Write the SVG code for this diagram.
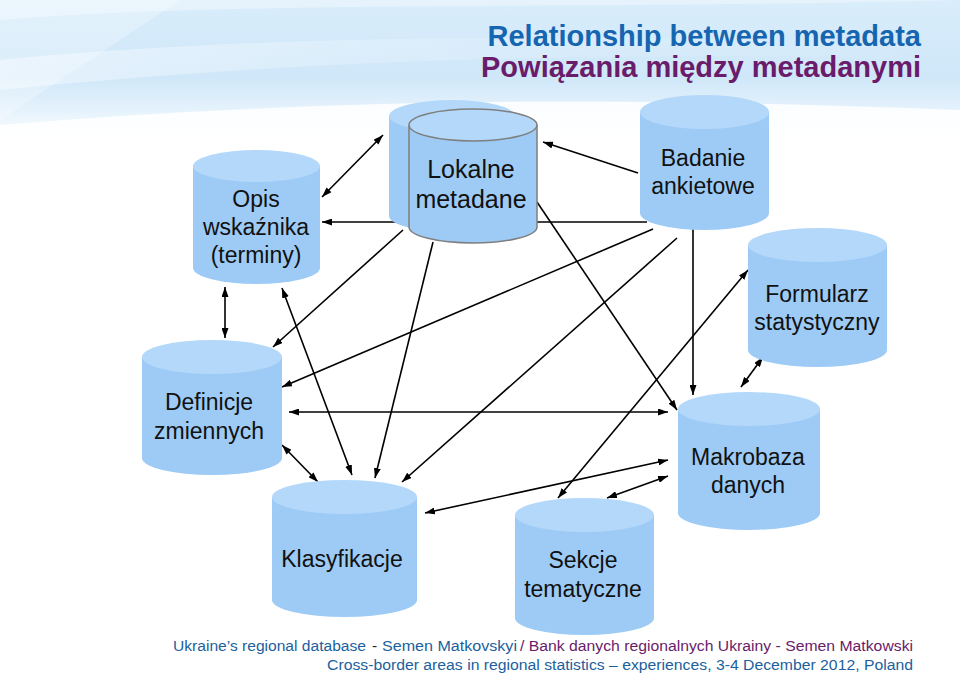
<svg xmlns="http://www.w3.org/2000/svg" width="960" height="676" viewBox="0 0 960 676">
<defs>
<linearGradient id="bg" x1="0" y1="0" x2="0" y2="1">
<stop offset="0" stop-color="#d9edfb"/>
<stop offset="0.55" stop-color="#cfe7f9"/>
<stop offset="0.8" stop-color="#e6f3fc"/>
<stop offset="1" stop-color="#ffffff"/>
</linearGradient>
<linearGradient id="sw" x1="0" y1="0" x2="1" y2="0">
<stop offset="0" stop-color="#ffffff" stop-opacity="0.7"/>
<stop offset="0.5" stop-color="#ffffff" stop-opacity="0.25"/>
<stop offset="1" stop-color="#ffffff" stop-opacity="0"/>
</linearGradient>
<marker id="ah" viewBox="0 0 10 7" refX="10" refY="3.5" markerWidth="10" markerHeight="7" markerUnits="userSpaceOnUse" orient="auto-start-reverse">
<path d="M0,0 L10,3.5 L0,7 Z" fill="#000"/>
</marker>
<style>
.body{fill:#9dcbf6}
.cap{fill:#b3d8fa}
.front .body,.front .cap{stroke:#7f7f7f;stroke-width:1.5}
.lbl{font-family:"Liberation Sans",Arial,sans-serif;font-size:23px;fill:#111;text-anchor:middle}
.c line{stroke:#000;stroke-width:1.6}
.title{font-family:"Liberation Sans",Arial,sans-serif;font-weight:bold;font-size:29px;text-anchor:end}
.foot{font-family:"Liberation Sans",Arial,sans-serif;font-size:15.5px}
.blue{fill:#1b5f9e}
.purple{fill:#6a1b6a}
</style>
</defs>
<rect x="0" y="0" width="960" height="676" fill="#ffffff"/>
<rect x="0" y="0" width="960" height="140" fill="url(#bg)"/>
<path d="M0,20 C250,0 600,10 960,0 L960,0 L0,0 Z" fill="#ffffff" opacity="0.35"/>
<path d="M0,60 C200,40 500,30 960,45 L960,60 C600,50 300,60 0,90 Z" fill="url(#sw)" opacity="0.6"/>
<path d="M0,125 C300,100 600,95 960,110 L960,140 L0,140 Z" fill="#ffffff" opacity="0.85"/>
<path d="M0,0 L180,0 C120,40 60,80 0,120 Z" fill="#ffffff" opacity="0.25"/>

<text class="title" x="921" y="46" fill="#1565b0">Relationship between metadata</text>
<text class="title" x="921" y="77" fill="#6a1b6a">Powiązania między metadanymi</text>

<g id="connectors" class="c">
<line x1="322" y1="197" x2="383" y2="135" marker-start="url(#ah)" marker-end="url(#ah)"/>
<line x1="647" y1="222" x2="322" y2="222" marker-end="url(#ah)"/>
<line x1="638" y1="173" x2="543" y2="142" marker-end="url(#ah)"/>
<line x1="537" y1="202" x2="677" y2="410" marker-end="url(#ah)"/>
<line x1="693" y1="229" x2="693" y2="395" marker-end="url(#ah)"/>
<line x1="653" y1="229" x2="282" y2="387" marker-end="url(#ah)"/>
<line x1="677" y1="238" x2="402" y2="482" marker-end="url(#ah)"/>
<line x1="403" y1="230" x2="273" y2="347" marker-end="url(#ah)"/>
<line x1="433" y1="242" x2="375" y2="478" marker-end="url(#ah)"/>
<line x1="282" y1="288" x2="352" y2="475" marker-start="url(#ah)" marker-end="url(#ah)"/>
<line x1="225" y1="287" x2="225" y2="338" marker-start="url(#ah)" marker-end="url(#ah)"/>
<line x1="282" y1="445" x2="318" y2="482" marker-start="url(#ah)" marker-end="url(#ah)"/>
<line x1="289" y1="412" x2="668" y2="412" marker-start="url(#ah)" marker-end="url(#ah)"/>
<line x1="425" y1="513" x2="668" y2="460" marker-start="url(#ah)" marker-end="url(#ah)"/>
<line x1="607" y1="498" x2="668" y2="476" marker-start="url(#ah)" marker-end="url(#ah)"/>
<line x1="748" y1="270" x2="558" y2="498" marker-start="url(#ah)" marker-end="url(#ah)"/>
<line x1="763" y1="357" x2="741" y2="387" marker-start="url(#ah)" marker-end="url(#ah)"/>
</g>

<g id="opis">
<path class="body" d="M193,166 V268 A63.5,16 0 0 0 320,268 V166 Z"/>
<ellipse class="cap" cx="256.5" cy="166" rx="63.5" ry="16"/>
<text class="lbl" x="256" y="207">Opis</text>
<text class="lbl" x="256" y="235">wskaźnika</text>
<text class="lbl" x="256" y="263">(terminy)</text>
</g>

<g id="lokalne">
<path class="body" d="M389,116 V216 A63,16 0 0 0 515,216 V116 Z"/>
<ellipse class="cap" cx="452" cy="116" rx="63" ry="16"/>
<g class="front">
<path class="body" d="M409,125 V227 A64,16 0 0 0 537,227 V125"/>
<ellipse class="cap" cx="473" cy="125" rx="64" ry="16"/>
</g>
<text class="lbl" x="471" y="178" style="font-size:25px">Lokalne</text>
<text class="lbl" x="471" y="208" style="font-size:25px">metadane</text>
</g>

<g id="badanie">
<path class="body" d="M640,112 V213 A64.5,17 0 0 0 769,213 V112 Z"/>
<ellipse class="cap" cx="704.5" cy="112" rx="64.5" ry="17"/>
<text class="lbl" x="703" y="166">Badanie</text>
<text class="lbl" x="703" y="194">ankietowe</text>
</g>

<g id="formularz">
<path class="body" d="M748,245 V350 A69.5,17 0 0 0 887,350 V245 Z"/>
<ellipse class="cap" cx="817.5" cy="245" rx="69.5" ry="17"/>
<text class="lbl" x="817" y="302">Formularz</text>
<text class="lbl" x="817" y="330">statystyczny</text>
</g>

<g id="definicje">
<path class="body" d="M142,357 V458 A70,17 0 0 0 282,458 V357 Z"/>
<ellipse class="cap" cx="212" cy="357" rx="70" ry="17"/>
<text class="lbl" x="209" y="410">Definicje</text>
<text class="lbl" x="209" y="439">zmiennych</text>
</g>

<g id="makrobaza">
<path class="body" d="M678,409 V513 A71,17 0 0 0 820,513 V409 Z"/>
<ellipse class="cap" cx="749" cy="409" rx="71" ry="17"/>
<text class="lbl" x="748" y="465">Makrobaza</text>
<text class="lbl" x="748" y="493">danych</text>
</g>

<g id="klasyfikacje">
<path class="body" d="M272,497 V600 A72.5,17 0 0 0 417,600 V497 Z"/>
<ellipse class="cap" cx="344.5" cy="497" rx="72.5" ry="17"/>
<text class="lbl" x="342" y="567">Klasyfikacje</text>
</g>

<g id="sekcje">
<path class="body" d="M515,515 V618 A69.5,17 0 0 0 654,618 V515 Z"/>
<ellipse class="cap" cx="584.5" cy="515" rx="69.5" ry="17"/>
<text class="lbl" x="583" y="568">Sekcje</text>
<text class="lbl" x="583" y="597">tematyczne</text>
</g>

<text class="foot blue" x="173" y="651" textLength="193" lengthAdjust="spacingAndGlyphs">Ukraine’s regional database</text>
<text class="foot" x="372" y="651" fill="#222">-</text>
<text class="foot blue" x="382" y="651" textLength="135" lengthAdjust="spacingAndGlyphs">Semen Matkovskyi</text>
<text class="foot purple" x="520" y="651" textLength="393" lengthAdjust="spacingAndGlyphs">/ Bank danych regionalnych Ukrainy - Semen Matkowski</text>
<text class="foot blue" x="327" y="670" textLength="586" lengthAdjust="spacingAndGlyphs">Cross-border areas in regional statistics – experiences, 3-4 December 2012, Poland</text>
</svg>
